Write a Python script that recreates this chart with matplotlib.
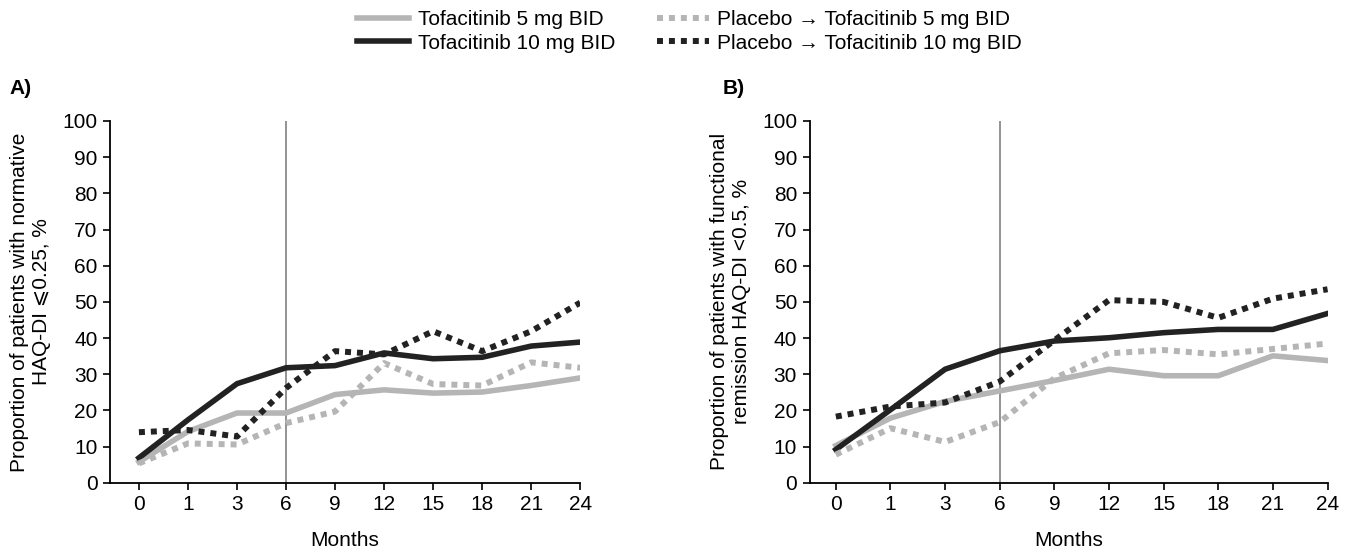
import matplotlib
matplotlib.use("Agg")
import matplotlib.pyplot as plt

plt.rcParams["font.family"] = ["Liberation Sans", "DejaVu Sans"]
plt.rcParams["font.size"] = 15

months = ["0", "1", "3", "6", "9", "12", "15", "18", "21", "24"]

# Panel A: normative HAQ-DI <=0.25
a_tofa5 = [5.8, 14.2, 19.3, 19.3, 24.4, 25.7, 24.8, 25.1, 26.9, 29.0]
a_tofa10 = [6.9, 17.4, 27.4, 31.8, 32.4, 35.9, 34.3, 34.7, 37.8, 38.9]
a_pbo5 = [5.4, 10.9, 10.6, 16.5, 19.7, 33.1, 27.3, 26.9, 33.3, 31.8]
a_pbo10 = [14.0, 14.6, 12.8, 26.2, 36.4, 35.5, 41.9, 36.4, 41.9, 49.8]

# Panel B: functional remission HAQ-DI <0.5
b_tofa5 = [10.3, 17.9, 22.5, 25.4, 28.3, 31.4, 29.6, 29.6, 35.1, 33.8]
b_tofa10 = [9.2, 20.2, 31.4, 36.5, 39.2, 40.1, 41.5, 42.4, 42.4, 46.8]
b_pbo5 = [7.8, 15.1, 11.3, 16.8, 28.9, 35.8, 36.7, 35.5, 37.0, 38.5]
b_pbo10 = [18.3, 21.1, 22.2, 28.0, 39.4, 50.5, 50.0, 45.6, 50.9, 53.5]

labels = ["Tofacitinib 5 mg BID", "Tofacitinib 10 mg BID",
          "Placebo \u2192 Tofacitinib 5 mg BID", "Placebo \u2192 Tofacitinib 10 mg BID"]

light = "#b5b5b5"
dark = "#222222"
styles = [
    dict(color=light, lw=4, ls="-"),
    dict(color=dark, lw=4, ls="-"),
    dict(color=light, lw=4.3, ls=(0, (1, 1)), dash_capstyle="butt"),
    dict(color=dark, lw=4.3, ls=(0, (1, 1)), dash_capstyle="butt"),
]

fig = plt.figure(figsize=(13.63, 5.55), dpi=100)
ax_a = fig.add_axes([0.0807, 0.130, 0.345, 0.652])
ax_b = fig.add_axes([0.594, 0.130, 0.380, 0.652])

panels = [
    (ax_a, [a_tofa5, a_tofa10, a_pbo5, a_pbo10], -0.59,
     "Proportion of patients with normative\nHAQ-DI \u2a7d0.25, %"),
    (ax_b, [b_tofa5, b_tofa10, b_pbo5, b_pbo10], -0.48,
     "Proportion of patients with functional\nremission HAQ-DI <0.5, %"),
]

x = list(range(len(months)))
handles = []
for ax, series, xleft, ylab in panels:
    ax.axvline(3, color="#808080", lw=1.2, zorder=1)
    handles = []
    for vals, st in zip(series, styles):
        h, = ax.plot(x, vals, solid_joinstyle="round", zorder=3, **st)
        handles.append(h)
    ax.set_xlim(xleft, 9)
    ax.set_ylim(0, 100)
    ax.set_yticks(range(0, 101, 10))
    ax.set_xticks(x)
    ax.set_xticklabels(months)
    ax.set_xlabel("Months", labelpad=12)
    ax.set_ylabel(ylab, labelpad=8)
    ax.spines["top"].set_visible(False)
    ax.spines["right"].set_visible(False)
    ax.spines["left"].set_linewidth(1.3)
    ax.spines["bottom"].set_linewidth(1.3)
    ax.tick_params(direction="out", length=5, width=1.2, pad=4)

fig.text(0.007, 0.83, "A)", fontsize=15, fontweight="bold")
fig.text(0.530, 0.83, "B)", fontsize=15, fontweight="bold")

fig.legend(handles, labels, loc="upper center", ncol=2, frameon=False,
           bbox_to_anchor=(0.506, 1.015), handlelength=2.5, columnspacing=2.0,
           labelspacing=0.2, handletextpad=0.4)

fig.savefig("out.png", dpi=100)
